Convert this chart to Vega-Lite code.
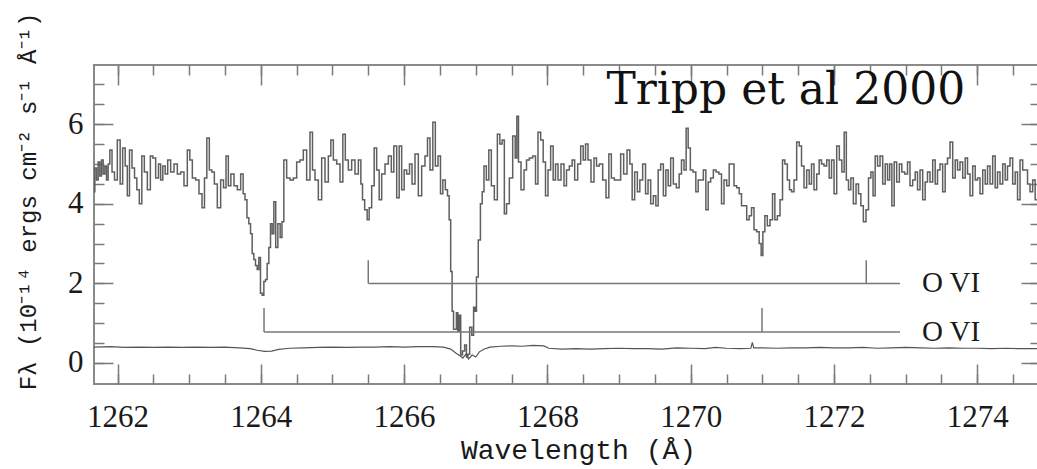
{
"$schema": "https://vega.github.io/schema/vega-lite/v6.json",
"width": 946, "height": 319,
"autosize": {"type": "none"},
"padding": {"left": 94, "top": 65, "right": 0, "bottom": 85},
"background": "white",
"config": {
  "view": {"stroke": "#8a8a8a", "strokeWidth": 2},
  "axis": {"domain": false, "grid": false, "tickColor": "#7a7a7a", "tickWidth": 1.5, "labelFlush": false, "labelOverlap": false, "labelBound": false}
},
"datasets": {
  "spec": [
{"w":1261.672,"f":4.3},{"w":1261.695,"f":4.9},{"w":1261.719,"f":4.6},{"w":1261.742,"f":5.05},{"w":1261.765,"f":4.7},{"w":1261.788,"f":5.1},{"w":1261.812,"f":4.75},{"w":1261.835,"f":4.95},{"w":1261.858,"f":4.6},{"w":1261.881,"f":5.0},{"w":1261.905,"f":5.35},{"w":1261.942,"f":4.8},{"w":1261.974,"f":4.6},{"w":1262.021,"f":5.6},{"w":1262.053,"f":4.5},{"w":1262.091,"f":5.4},{"w":1262.123,"f":4.95},{"w":1262.151,"f":4.2},{"w":1262.184,"f":5.35},{"w":1262.221,"f":4.9},{"w":1262.254,"f":4.65},{"w":1262.286,"f":4.35},{"w":1262.323,"f":4.0},{"w":1262.356,"f":5.2},{"w":1262.393,"f":4.8},{"w":1262.44,"f":4.35},{"w":1262.477,"f":5.2},{"w":1262.509,"f":5.15},{"w":1262.556,"f":4.65},{"w":1262.588,"f":5.0},{"w":1262.616,"f":4.6},{"w":1262.649,"f":4.95},{"w":1262.682,"f":4.75},{"w":1262.719,"f":5.1},{"w":1262.765,"f":4.8},{"w":1262.812,"f":5.0},{"w":1262.858,"f":4.75},{"w":1262.905,"f":4.8},{"w":1262.951,"f":4.45},{"w":1262.998,"f":5.35},{"w":1263.021,"f":5.1},{"w":1263.068,"f":4.65},{"w":1263.114,"f":4.6},{"w":1263.161,"f":4.25},{"w":1263.198,"f":3.9},{"w":1263.23,"f":4.65},{"w":1263.263,"f":5.65},{"w":1263.3,"f":4.85},{"w":1263.333,"f":4.8},{"w":1263.37,"f":4.5},{"w":1263.416,"f":3.9},{"w":1263.463,"f":4.6},{"w":1263.496,"f":4.4},{"w":1263.533,"f":5.2},{"w":1263.561,"f":4.45},{"w":1263.603,"f":4.75},{"w":1263.649,"f":4.45},{"w":1263.696,"f":4.35},{"w":1263.742,"f":4.75},{"w":1263.765,"f":4.25},{"w":1263.793,"f":4.1},{"w":1263.821,"f":3.65},{"w":1263.845,"f":3.5},{"w":1263.868,"f":3.25},{"w":1263.891,"f":2.75},{"w":1263.914,"f":2.6},{"w":1263.938,"f":2.45},{"w":1263.961,"f":2.35},{"w":1263.984,"f":2.65},{"w":1264.007,"f":1.75},{"w":1264.031,"f":1.7},{"w":1264.054,"f":2.05},{"w":1264.077,"f":2.1},{"w":1264.1,"f":2.5},{"w":1264.124,"f":2.9},{"w":1264.147,"f":3.5},{"w":1264.17,"f":3.25},{"w":1264.194,"f":4.05},{"w":1264.222,"f":2.9},{"w":1264.254,"f":3.5},{"w":1264.286,"f":3.15},{"w":1264.305,"f":3.55},
{"w":1264.338,"f":5.1},{"w":1264.384,"f":4.65},{"w":1264.431,"f":4.6},{"w":1264.477,"f":4.65},{"w":1264.524,"f":5.05},{"w":1264.57,"f":5.1},{"w":1264.617,"f":5.35},{"w":1264.663,"f":4.6},{"w":1264.71,"f":5.8},{"w":1264.733,"f":4.85},{"w":1264.78,"f":4.6},{"w":1264.826,"f":4.1},{"w":1264.873,"f":5.15},{"w":1264.919,"f":4.55},{"w":1264.966,"f":5.2},{"w":1264.989,"f":5.6},{"w":1265.036,"f":5.1},{"w":1265.082,"f":5.0},{"w":1265.129,"f":4.55},{"w":1265.161,"f":5.75},{"w":1265.198,"f":5.1},{"w":1265.245,"f":4.85},{"w":1265.291,"f":5.1},{"w":1265.338,"f":4.75},{"w":1265.385,"f":5.1},{"w":1265.408,"f":4.5},{"w":1265.431,"f":4.1},{"w":1265.468,"f":3.85},{"w":1265.501,"f":3.6},{"w":1265.524,"f":3.9},{"w":1265.571,"f":4.45},{"w":1265.594,"f":5.4},{"w":1265.64,"f":4.85},{"w":1265.664,"f":4.1},{"w":1265.71,"f":4.75},{"w":1265.757,"f":5.0},{"w":1265.803,"f":5.2},{"w":1265.84,"f":4.8},{"w":1265.873,"f":5.45},{"w":1265.92,"f":4.15},{"w":1265.943,"f":5.45},{"w":1265.989,"f":4.35},{"w":1266.013,"f":4.85},{"w":1266.059,"f":4.75},{"w":1266.092,"f":5.0},{"w":1266.129,"f":4.5},{"w":1266.175,"f":5.25},{"w":1266.222,"f":4.2},{"w":1266.268,"f":4.95},{"w":1266.315,"f":5.2},{"w":1266.338,"f":5.65},{"w":1266.385,"f":4.85},{"w":1266.417,"f":6.05},{"w":1266.455,"f":4.95},{"w":1266.492,"f":5.2},{"w":1266.524,"f":4.25},{"w":1266.557,"f":4.6},{"w":1266.594,"f":4.35},{"w":1266.617,"f":4.2},
{"w":1266.64,"f":3.6},{"w":1266.66,"f":2.3},{"w":1266.68,"f":1.3},{"w":1266.7,"f":0.85},{"w":1266.72,"f":0.85},{"w":1266.74,"f":1.26},{"w":1266.76,"f":0.8},{"w":1266.78,"f":1.2},{"w":1266.8,"f":0.2},{"w":1266.83,"f":0.3},{"w":1266.86,"f":0.45},{"w":1266.88,"f":0.15},{"w":1266.9,"f":0.22},{"w":1266.93,"f":0.9},{"w":1266.96,"f":0.7},{"w":1266.98,"f":1.4},{"w":1267.0,"f":1.3},{"w":1267.02,"f":2.16},{"w":1267.05,"f":3.09},{"w":1267.08,"f":4.0},{"w":1267.1,"f":4.3},{"w":1267.13,"f":4.95},
{"w":1267.166,"f":4.6},{"w":1267.199,"f":5.35},{"w":1267.236,"f":4.45},{"w":1267.283,"f":4.1},{"w":1267.32,"f":5.75},{"w":1267.352,"f":5.5},{"w":1267.385,"f":5.6},{"w":1267.413,"f":3.75},{"w":1267.446,"f":4.0},{"w":1267.492,"f":4.65},{"w":1267.539,"f":5.7},{"w":1267.562,"f":5.15},{"w":1267.585,"f":6.2},{"w":1267.608,"f":5.05},{"w":1267.655,"f":4.35},{"w":1267.692,"f":4.85},{"w":1267.725,"f":5.1},{"w":1267.771,"f":5.15},{"w":1267.818,"f":5.2},{"w":1267.85,"f":4.5},{"w":1267.887,"f":5.8},{"w":1267.925,"f":5.6},{"w":1267.957,"f":5.05},{"w":1267.99,"f":4.2},{"w":1268.027,"f":4.85},{"w":1268.064,"f":5.45},{"w":1268.097,"f":4.6},{"w":1268.129,"f":5.0},{"w":1268.167,"f":4.6},{"w":1268.213,"f":5.0},{"w":1268.25,"f":4.45},{"w":1268.283,"f":4.85},{"w":1268.329,"f":4.95},{"w":1268.362,"f":5.1},{"w":1268.399,"f":4.6},{"w":1268.446,"f":5.0},{"w":1268.483,"f":5.45},{"w":1268.516,"f":5.1},{"w":1268.548,"f":5.5},{"w":1268.585,"f":5.1},{"w":1268.632,"f":4.55},{"w":1268.669,"f":5.15},{"w":1268.702,"f":4.95},{"w":1268.748,"f":5.0},{"w":1268.795,"f":4.6},{"w":1268.841,"f":4.15},{"w":1268.874,"f":5.25},{"w":1268.911,"f":4.65},{"w":1268.958,"f":4.6},{"w":1269.004,"f":4.6},{"w":1269.041,"f":5.25},{"w":1269.088,"f":4.75},{"w":1269.134,"f":5.35},{"w":1269.167,"f":5.0},{"w":1269.199,"f":4.1},{"w":1269.237,"f":4.8},{"w":1269.274,"f":4.3},{"w":1269.306,"f":4.6},{"w":1269.353,"f":5.0},{"w":1269.386,"f":4.25},{"w":1269.423,"f":4.6},{"w":1269.46,"f":4.0},
{"w":1269.497,"f":4.2},{"w":1269.53,"f":3.95},{"w":1269.562,"f":4.85},{"w":1269.6,"f":5.0},{"w":1269.637,"f":4.2},{"w":1269.669,"f":4.85},{"w":1269.702,"f":4.45},{"w":1269.739,"f":5.15},{"w":1269.776,"f":4.5},{"w":1269.823,"f":4.4},{"w":1269.855,"f":4.75},{"w":1269.888,"f":5.1},{"w":1269.925,"f":4.85},{"w":1269.948,"f":5.9},{"w":1269.981,"f":5.4},{"w":1270.009,"f":4.85},{"w":1270.055,"f":4.8},{"w":1270.088,"f":4.3},{"w":1270.121,"f":4.6},{"w":1270.158,"f":4.6},{"w":1270.195,"f":4.85},{"w":1270.228,"f":3.85},{"w":1270.26,"f":4.55},{"w":1270.297,"f":4.65},{"w":1270.335,"f":4.85},{"w":1270.372,"f":4.8},{"w":1270.414,"f":4.75},{"w":1270.446,"f":4.0},{"w":1270.484,"f":4.6},{"w":1270.521,"f":4.45},{"w":1270.553,"f":5.0},{"w":1270.586,"f":5.0},{"w":1270.623,"f":4.45},{"w":1270.66,"f":4.4},{"w":1270.693,"f":4.25},{"w":1270.725,"f":3.95},{"w":1270.763,"f":3.95},{"w":1270.8,"f":3.6},{"w":1270.832,"f":3.7},{"w":1270.865,"f":3.9},{"w":1270.902,"f":3.35},{"w":1270.939,"f":3.3},{"w":1270.972,"f":3.0},{"w":1270.995,"f":2.7},{"w":1271.019,"f":3.3},{"w":1271.051,"f":3.7},{"w":1271.088,"f":3.45},{"w":1271.126,"f":3.6},{"w":1271.158,"f":4.25},{"w":1271.191,"f":3.6},{"w":1271.228,"f":3.7},{"w":1271.265,"f":4.1},{"w":1271.298,"f":5.1},{"w":1271.33,"f":5.0},{"w":1271.367,"f":4.6},{"w":1271.391,"f":4.35},{"w":1271.423,"f":4.3},{"w":1271.46,"f":4.6},{"w":1271.498,"f":5.55},{"w":1271.53,"f":5.45},{"w":1271.563,"f":4.95},{"w":1271.6,"f":4.4},{"w":1271.637,"f":4.85},{"w":1271.67,"f":4.5},{"w":1271.702,"f":5.0},{"w":1271.74,"f":4.35},{"w":1271.777,"f":4.75},{"w":1271.809,"f":5.1},{"w":1271.842,"f":5.0},{"w":1271.879,"f":4.95},{"w":1271.916,"f":5.1},{"w":1271.949,"f":4.65},{"w":1271.982,"f":5.1},{"w":1272.019,"f":4.25},{"w":1272.056,"f":5.45},
{"w":1272.093,"f":5.1},{"w":1272.126,"f":4.8},{"w":1272.158,"f":5.8},{"w":1272.186,"f":4.6},{"w":1272.219,"f":4.35},{"w":1272.251,"f":4.65},{"w":1272.289,"f":4.0},{"w":1272.326,"f":4.5},{"w":1272.358,"f":4.25},{"w":1272.391,"f":3.95},{"w":1272.428,"f":3.55},{"w":1272.465,"f":3.85},{"w":1272.498,"f":4.65},{"w":1272.531,"f":4.8},{"w":1272.558,"f":4.2},{"w":1272.591,"f":5.2},{"w":1272.624,"f":4.95},{"w":1272.661,"f":5.2},{"w":1272.698,"f":4.5},{"w":1272.731,"f":5.0},{"w":1272.763,"f":4.6},{"w":1272.791,"f":5.0},{"w":1272.824,"f":3.95},{"w":1272.856,"f":5.05},{"w":1272.893,"f":4.55},{"w":1272.931,"f":5.0},{"w":1272.963,"f":4.8},{"w":1273.01,"f":4.75},{"w":1273.042,"f":5.05},{"w":1273.079,"f":4.45},{"w":1273.117,"f":4.6},{"w":1273.149,"f":4.8},{"w":1273.182,"f":4.35},{"w":1273.219,"f":4.85},{"w":1273.256,"f":4.1},{"w":1273.289,"f":4.55},{"w":1273.321,"f":4.8},{"w":1273.359,"f":4.55},{"w":1273.396,"f":5.1},{"w":1273.428,"f":4.5},{"w":1273.461,"f":4.85},{"w":1273.498,"f":5.0},{"w":1273.535,"f":4.3},{"w":1273.568,"f":5.0},{"w":1273.6,"f":5.15},{"w":1273.638,"f":5.55},{"w":1273.675,"f":4.65},{"w":1273.708,"f":5.1},{"w":1273.74,"f":4.85},{"w":1273.777,"f":5.05},{"w":1273.815,"f":4.65},{"w":1273.847,"f":5.15},{"w":1273.88,"f":4.75},{"w":1273.917,"f":4.2},{"w":1273.954,"f":4.95},{"w":1273.987,"f":4.6},{"w":1274.019,"f":4.65},{"w":1274.057,"f":4.25},{"w":1274.094,"f":4.85},{"w":1274.126,"f":4.5},{"w":1274.159,"f":4.95},{"w":1274.196,"f":4.5},{"w":1274.233,"f":5.2},{"w":1274.266,"f":4.4},{"w":1274.298,"f":4.8},{"w":1274.336,"f":4.5},{"w":1274.373,"f":5.0},{"w":1274.405,"f":4.6},{"w":1274.438,"f":4.95},{"w":1274.475,"f":5.15},{"w":1274.512,"f":4.5},{"w":1274.545,"f":4.8},{"w":1274.578,"f":4.1},{"w":1274.615,"f":5.1},{"w":1274.652,"f":4.85},{"w":1274.685,"f":4.85},{"w":1274.717,"f":4.5},{"w":1274.754,"f":4.3},{"w":1274.791,"f":4.6},{"w":1274.824,"f":4.1},{"w":1274.87,"f":4.3}
  ],
  "err": [
{"w":1261.672,"e":0.4},{"w":1261.9,"e":0.41},{"w":1262.1,"e":0.39},{"w":1262.3,"e":0.4},{"w":1262.5,"e":0.39},{"w":1262.7,"e":0.4},{"w":1262.9,"e":0.39},{"w":1263.1,"e":0.4},{"w":1263.3,"e":0.39},{"w":1263.5,"e":0.4},{"w":1263.7,"e":0.38},{"w":1263.85,"e":0.36},{"w":1263.95,"e":0.32},{"w":1264.05,"e":0.29},{"w":1264.15,"e":0.3},{"w":1264.25,"e":0.34},{"w":1264.4,"e":0.37},{"w":1264.6,"e":0.38},{"w":1264.8,"e":0.39},{"w":1265.0,"e":0.4},{"w":1265.2,"e":0.39},{"w":1265.4,"e":0.4},{"w":1265.6,"e":0.4},{"w":1265.8,"e":0.41},{"w":1266.0,"e":0.4},{"w":1266.2,"e":0.41},{"w":1266.4,"e":0.41},{"w":1266.55,"e":0.4},{"w":1266.65,"e":0.35},{"w":1266.72,"e":0.25},{"w":1266.78,"e":0.18},{"w":1266.82,"e":0.12},{"w":1266.86,"e":0.22},{"w":1266.9,"e":0.1},{"w":1266.95,"e":0.2},{"w":1267.0,"e":0.15},{"w":1267.05,"e":0.28},{"w":1267.12,"e":0.35},{"w":1267.2,"e":0.4},{"w":1267.35,"e":0.42},{"w":1267.5,"e":0.43},{"w":1267.65,"e":0.42},{"w":1267.8,"e":0.44},{"w":1267.95,"e":0.43},{"w":1268.02,"e":0.37},{"w":1268.2,"e":0.35},{"w":1268.4,"e":0.36},{"w":1268.6,"e":0.35},{"w":1268.8,"e":0.36},{"w":1269.0,"e":0.37},{"w":1269.2,"e":0.36},{"w":1269.4,"e":0.36},{"w":1269.6,"e":0.35},{"w":1269.8,"e":0.38},{"w":1270.0,"e":0.37},{"w":1270.2,"e":0.36},{"w":1270.35,"e":0.39},{"w":1270.5,"e":0.37},{"w":1270.7,"e":0.36},{"w":1270.84,"e":0.37},{"w":1270.86,"e":0.52},{"w":1270.88,"e":0.38},{"w":1271.0,"e":0.38},{"w":1271.2,"e":0.37},{"w":1271.4,"e":0.38},{"w":1271.6,"e":0.38},{"w":1271.8,"e":0.39},{"w":1272.0,"e":0.38},{"w":1272.2,"e":0.38},{"w":1272.4,"e":0.39},{"w":1272.6,"e":0.37},{"w":1272.8,"e":0.38},{"w":1273.0,"e":0.39},{"w":1273.2,"e":0.38},{"w":1273.4,"e":0.37},{"w":1273.6,"e":0.38},{"w":1273.8,"e":0.37},{"w":1274.0,"e":0.37},{"w":1274.2,"e":0.36},{"w":1274.4,"e":0.37},{"w":1274.6,"e":0.36},{"w":1274.87,"e":0.36}
  ],
  "systems": [
    {"label": "O VI", "start": 1265.5, "end": 1272.92, "level": 2.0},
    {"label": "O VI", "start": 1264.045, "end": 1272.92, "level": 0.78}
  ],
  "lines": [
    {"w": 1265.5, "level": 2.0, "top": 2.58},
    {"w": 1272.45, "level": 2.0, "top": 2.58},
    {"w": 1264.045, "level": 0.78, "top": 1.38},
    {"w": 1270.995, "level": 0.78, "top": 1.38}
  ],
  "note": [
    {"label": "Tripp et al 2000"}
  ]
},
"resolve": {"axis": {"x": "independent", "y": "independent"}},
"layer": [
  {
    "data": {"name": "spec"},
    "mark": {"type": "line", "interpolate": "step", "color": "#5f5f5f", "strokeWidth": 1.5},
    "encoding": {
      "x": {"field": "w", "type": "quantitative",
        "scale": {"domain": [1261.672, 1274.875], "nice": false, "zero": false},
        "axis": {"orient": "bottom", "values": [1262, 1264, 1266, 1268, 1270, 1272, 1274], "format": "d", "ticks": false,
          "labelPadding": 18, "labelFont": "Liberation Serif", "labelFontSize": 31, "labelColor": "#1a1a1a",
          "title": "Wavelength (Å)", "titleFont": "Liberation Mono", "titleFontSize": 28, "titleFontWeight": "normal",
          "titleColor": "#1a1a1a", "titleX": 484, "titleY": 66, "titleBaseline": "middle", "titleAlign": "center"}},
      "y": {"field": "f", "type": "quantitative",
        "scale": {"domain": [-0.528, 7.487], "nice": false, "zero": false},
        "axis": {"orient": "left", "values": [0, 2, 4, 6], "format": "d", "ticks": false,
          "labelPadding": 11, "labelFont": "Liberation Serif", "labelFontSize": 31, "labelColor": "#1a1a1a",
          "title": "Fλ (10⁻¹⁴ ergs cm⁻² s⁻¹ Å⁻¹)", "titleFont": "Liberation Mono", "titleFontSize": 24, "titleFontWeight": "normal",
          "titleColor": "#1a1a1a", "titleX": -66, "titleY": 136, "titleAngle": -90, "titleBaseline": "middle", "titleAlign": "center"}}
    }
  },
  {
    "data": {"name": "err"},
    "mark": {"type": "line", "color": "#555555", "strokeWidth": 1.2},
    "encoding": {
      "x": {"field": "w", "type": "quantitative",
        "axis": {"orient": "bottom", "values": [1262, 1264, 1266, 1268, 1270, 1272, 1274], "labels": false, "tickSize": -20, "title": null}},
      "y": {"field": "e", "type": "quantitative",
        "axis": {"orient": "left", "values": [0, 2, 4, 6], "labels": false, "tickSize": -19, "title": null}}
    }
  },
  {
    "data": {"name": "systems"},
    "mark": {"type": "rule", "color": "#777777", "strokeWidth": 1.5},
    "encoding": {
      "x": {"field": "start", "type": "quantitative",
        "axis": {"orient": "bottom", "values": [1262, 1262.5, 1263, 1263.5, 1264, 1264.5, 1265, 1265.5, 1266, 1266.5, 1267, 1267.5, 1268, 1268.5, 1269, 1269.5, 1270, 1270.5, 1271, 1271.5, 1272, 1272.5, 1273, 1273.5, 1274, 1274.5], "labels": false, "tickSize": -10, "title": null}},
      "x2": {"field": "end"},
      "y": {"field": "level", "type": "quantitative",
        "axis": {"orient": "left", "values": [0, 0.5, 1, 1.5, 2, 2.5, 3, 3.5, 4, 4.5, 5, 5.5, 6, 6.5, 7], "labels": false, "tickSize": -10, "title": null}}
    }
  },
  {
    "data": {"name": "lines"},
    "mark": {"type": "rule", "color": "#777777", "strokeWidth": 1.5},
    "encoding": {
      "x": {"field": "w", "type": "quantitative",
        "axis": {"orient": "top", "values": [1262, 1264, 1266, 1268, 1270, 1272, 1274], "labels": false, "tickSize": -20, "title": null}},
      "y": {"field": "level", "type": "quantitative",
        "axis": {"orient": "right", "values": [0, 2, 4, 6], "labels": false, "tickSize": -19, "title": null}},
      "y2": {"field": "top"}
    }
  },
  {
    "data": {"name": "systems"},
    "mark": {"type": "text", "align": "left", "baseline": "middle", "dx": 22, "font": "Liberation Serif", "fontSize": 29, "color": "#1a1a1a"},
    "encoding": {
      "x": {"field": "end", "type": "quantitative",
        "axis": {"orient": "top", "values": [1262, 1262.5, 1263, 1263.5, 1264, 1264.5, 1265, 1265.5, 1266, 1266.5, 1267, 1267.5, 1268, 1268.5, 1269, 1269.5, 1270, 1270.5, 1271, 1271.5, 1272, 1272.5, 1273, 1273.5, 1274, 1274.5], "labels": false, "tickSize": -10, "title": null}},
      "y": {"field": "level", "type": "quantitative",
        "axis": {"orient": "right", "values": [0, 0.5, 1, 1.5, 2, 2.5, 3, 3.5, 4, 4.5, 5, 5.5, 6, 6.5, 7], "labels": false, "tickSize": -10, "title": null}},
      "text": {"field": "label"}
    }
  },
  {
    "mark": {"type": "rule", "color": "#888888", "strokeWidth": 1.5, "strokeDash": [2, 10]},
    "encoding": {"y": {"datum": 0, "type": "quantitative", "axis": null}}
  },
  {
    "data": {"name": "note"},
    "mark": {"type": "text", "align": "right", "baseline": "alphabetic", "font": "DejaVu Serif", "fontSize": 44, "color": "#111111"},
    "encoding": {
      "x": {"datum": 1273.83, "type": "quantitative", "axis": null},
      "y": {"datum": 6.5, "type": "quantitative", "axis": null},
      "text": {"field": "label"}
    }
  }
]
}
